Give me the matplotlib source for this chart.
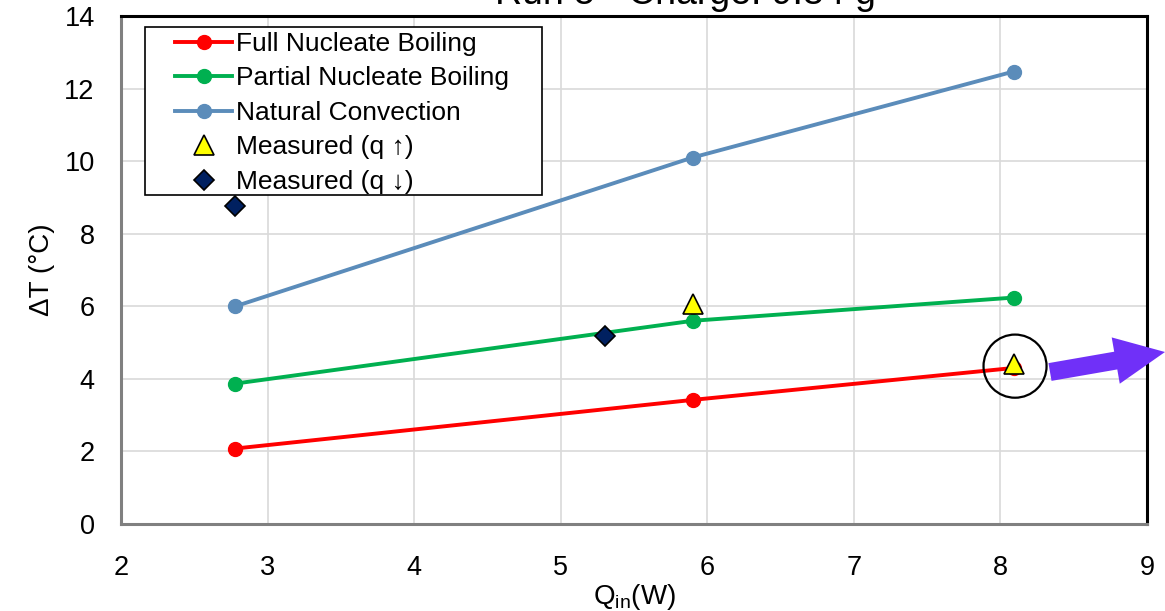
import matplotlib.pyplot as plt
from matplotlib.patches import Ellipse, FancyArrow, Rectangle

plt.rcParams['font.family'] = ['Liberation Sans', 'DejaVu Sans']

q_in = [2.78, 5.90, 8.09]
full_nb = [2.08, 3.42, 4.30]
partial_nb = [3.87, 5.60, 6.24]
natural_conv = [6.00, 10.10, 12.47]

meas_up_x = [5.90, 8.09]
meas_up_y = [6.05, 4.42]
meas_down_x = [2.78, 5.30]
meas_down_y = [8.76, 5.19]

x_ticks = [2, 3, 4, 5, 6, 7, 8, 9]
y_ticks = [0, 2, 4, 6, 8, 10, 12, 14]

fig = plt.figure(figsize=(11.65, 6.11), dpi=100)
ax = fig.add_axes([0.1039, 0.1424, 0.8806, 0.8314])

ax.plot(q_in, full_nb, color='#FF0000', lw=2.8, marker='o', ms=10, label='Full Nucleate Boiling', zorder=3)
ax.plot(q_in, partial_nb, color='#00B050', lw=2.8, marker='o', ms=10, label='Partial Nucleate Boiling', zorder=3)
ax.plot(q_in, natural_conv, color='#5B8CBA', lw=2.8, marker='o', ms=10, label='Natural Convection', zorder=3)
ax.plot(meas_up_x, meas_up_y, ls='none', marker='^', ms=14, mfc='#FFFF00', mec='black', mew=1.2,
        label='Measured (q \u2191)', zorder=4)
ax.plot(meas_down_x, meas_down_y, ls='none', marker='D', ms=10.5, mfc='#002060', mec='black', mew=1.2,
        label='Measured (q \u2193)', zorder=4)

# circle around the last measured point
circ = Ellipse((8.10, 4.35), 0.43, 1.74, fill=False, ec='black', lw=1.6, zorder=5, clip_on=False)
ax.add_patch(circ)

# purple arrow pointing out to the right (inches from the figure's bottom-left)
arrow = FancyArrow(10.50, 2.39, 1.15, 0.20, width=0.18, head_width=0.47, head_length=0.50,
                   length_includes_head=True, transform=fig.dpi_scale_trans,
                   fc='#7030F8', ec='#7030F8', lw=0)
fig.add_artist(arrow)

ax.set_xlim(2, 9)
ax.set_ylim(0, 14)
ax.set_xticks(x_ticks)
ax.set_yticks(y_ticks)
ax.tick_params(length=0, labelsize=19.5)
ax.tick_params(axis='y', pad=19)
ax.tick_params(axis='x', pad=22)
ax.grid(True, color='#D9D9D9', lw=1.2)
ax.set_axisbelow(True)

for side in ['top', 'right']:
    ax.spines[side].set_color('black')
    ax.spines[side].set_linewidth(2.2)
for side in ['left', 'bottom']:
    ax.spines[side].set_color('#808080')
    ax.spines[side].set_linewidth(2.2)

ax.set_xlabel('Q$_{\\mathregular{in}}$(W)', fontsize=20, labelpad=1)
ax.set_ylabel('\u0394T (\u00b0C)', fontsize=20, labelpad=7)

fig.text(0.588, 0.993, 'Run 5 - Charge: 9.84 g', fontsize=27, ha='center', va='baseline')

# legend box drawn separately so the padding matches
box = Rectangle((0.0234, 0.6476), 0.3869, 0.3304, transform=ax.transAxes, fc='white', ec='black',
                lw=1.2, zorder=4.5)
ax.add_patch(box)
leg = ax.legend(loc='upper left', bbox_to_anchor=(0.0526, 0.969), fontsize=19, frameon=False,
                handlelength=2.16, handletextpad=0.15, borderpad=0, labelspacing=0.4,
                borderaxespad=0)

fig.savefig('out.png', dpi=100)
